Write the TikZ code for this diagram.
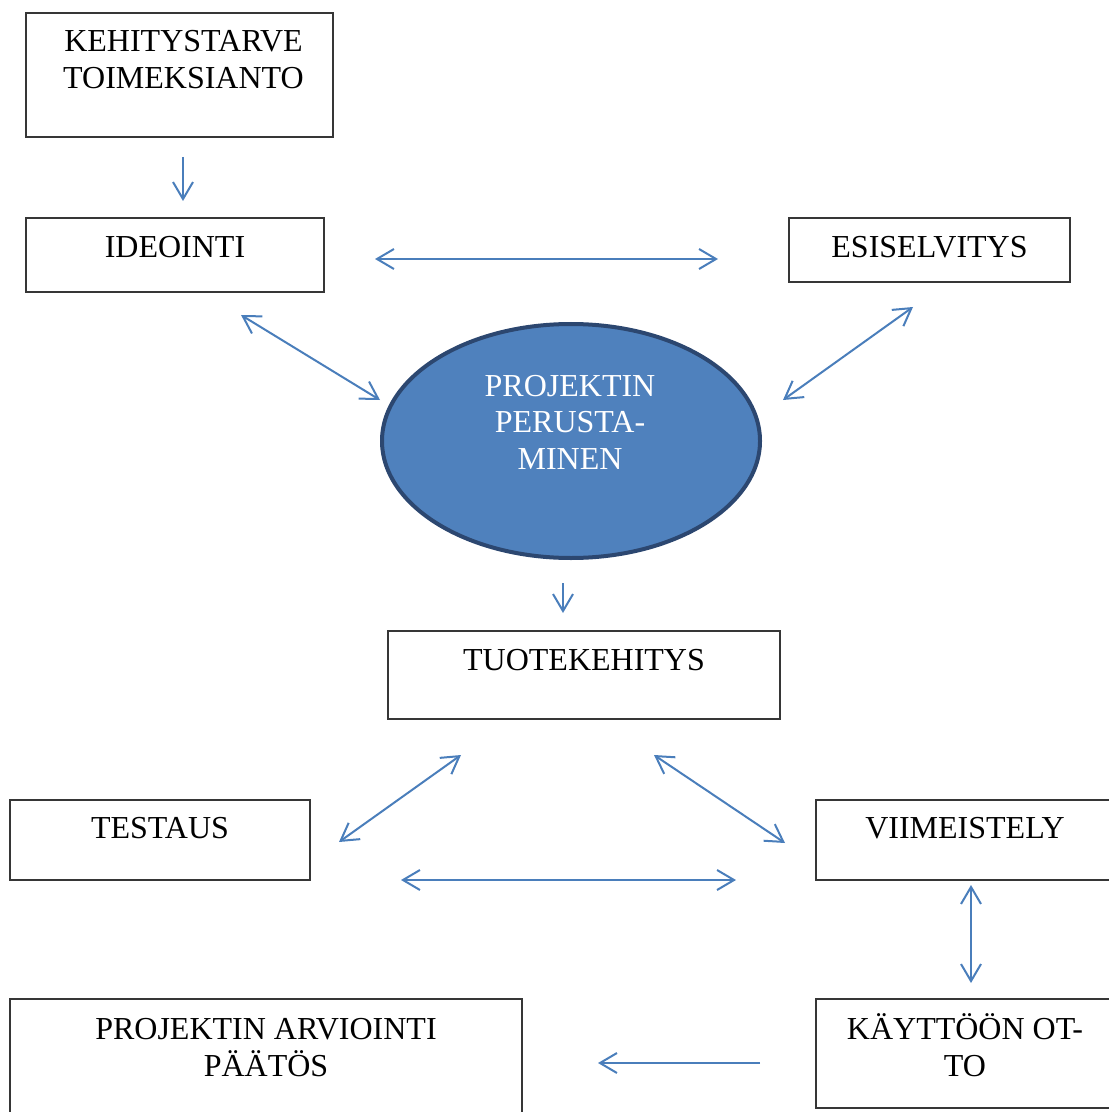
\documentclass[tikz,border=0pt]{standalone}
\usepackage{fontspec}
\setmainfont{Liberation Serif}
\usetikzlibrary{arrows.meta,calc,shapes.geometric,fit}
\definecolor{arrowblue}{HTML}{4A7EBB}
\definecolor{ellfill}{HTML}{4F81BD}
\definecolor{elldraw}{HTML}{2C4770}
\definecolor{boxline}{HTML}{363636}
\tikzset{
  myhead/.tip={Straight Barb[length=8.5pt,width=10pt]},
  box/.style={draw=boxline, line width=0.9pt, inner sep=0pt, rectangle},
  txt/.style={font=\fontsize{16}{18.2}\selectfont, align=center, inner sep=0pt, anchor=base},
  conn/.style={draw=arrowblue, line width=1pt},
  bothway/.style={conn, myhead-myhead},
  oneway/.style={conn, -myhead},
}
\begin{document}
\begin{tikzpicture}[x=0.5pt,y=-0.5pt]
\useasboundingbox (0,0) rectangle (1108,1112);
% boxes
\node[box, fit={(26,13) (333,137)}] (keh) {};
\node[box, fit={(26,218) (324,292)}] (ideo) {};
\node[box, fit={(789,218) (1070,282)}] (esi) {};
\node[box, fit={(388,631) (780,719)}] (tuo) {};
\node[box, fit={(10,800) (310,880)}] (tes) {};
\node[box, fit={(816,800) (1114,880)}] (vii) {};
\node[box, fit={(10,999) (522,1125)}] (arv) {};
\node[box, fit={(816,999) (1114,1108)}] (kay) {};
\node[ellipse, draw=elldraw, line width=2pt, fill=ellfill, inner sep=0pt,
      minimum width=189pt, minimum height=117pt] (proj) at (571,441) {};
% texts (base anchor = baseline of the last line)
\node[txt] (kehT) at ($(keh.north)+(4,76)$) {KEHITYSTARVE\\TOIMEKSIANTO};
\node[txt] (ideoT) at ($(ideo.north)+(0,40)$) {IDEOINTI};
\node[txt] (esiT) at ($(esi.north)+(0,40)$) {ESISELVITYS};
\node[txt] (tuoT) at ($(tuo.north)+(0,40)$) {TUOTEKEHITYS};
\node[txt] (tesT) at ($(tes.north)+(0,39)$) {TESTAUS};
\node[txt] (viiT) at ($(vii.north)+(0,39)$) {VIIMEISTELY};
\node[txt] (arvT) at ($(arv.north)+(0,78)$) {PROJEKTIN ARVIOINTI\\PÄÄTÖS};
\node[txt] (kayT) at ($(kay.north)+(0,78)$) {KÄYTTÖÖN OT-\\TO};
\node[txt, text=white] (projT) at (570,469) {PROJEKTIN\\PERUSTA-\\MINEN};
% connector end points
\coordinate (a1) at (183,157); \coordinate (a2) at (183,201);
\coordinate (b1) at (375,259); \coordinate (b2) at (718,259);
\coordinate (c1) at (241,315); \coordinate (c2) at (380,400);
\coordinate (d1) at (913,307); \coordinate (d2) at (783,400);
\coordinate (e1) at (563,583); \coordinate (e2) at (563,613);
\coordinate (f1) at (461,755); \coordinate (f2) at (339,842);
\coordinate (g1) at (654,755); \coordinate (g2) at (785,843);
\coordinate (h1) at (401,880); \coordinate (h2) at (736,880);
\coordinate (i1) at (971,885); \coordinate (i2) at (971,983);
\coordinate (j1) at (760,1063); \coordinate (j2) at (598,1063);
% connectors
\draw[oneway] (a1) -- (a2);
\draw[bothway] (b1) -- (b2);
\draw[bothway] (c1) -- (c2);
\draw[bothway] (d1) -- (d2);
\draw[oneway] (e1) -- (e2);
\draw[bothway] (f1) -- (f2);
\draw[bothway] (g1) -- (g2);
\draw[bothway] (h1) -- (h2);
\draw[bothway] (i1) -- (i2);
\draw[oneway] (j1) -- (j2);
\end{tikzpicture}
\end{document}
